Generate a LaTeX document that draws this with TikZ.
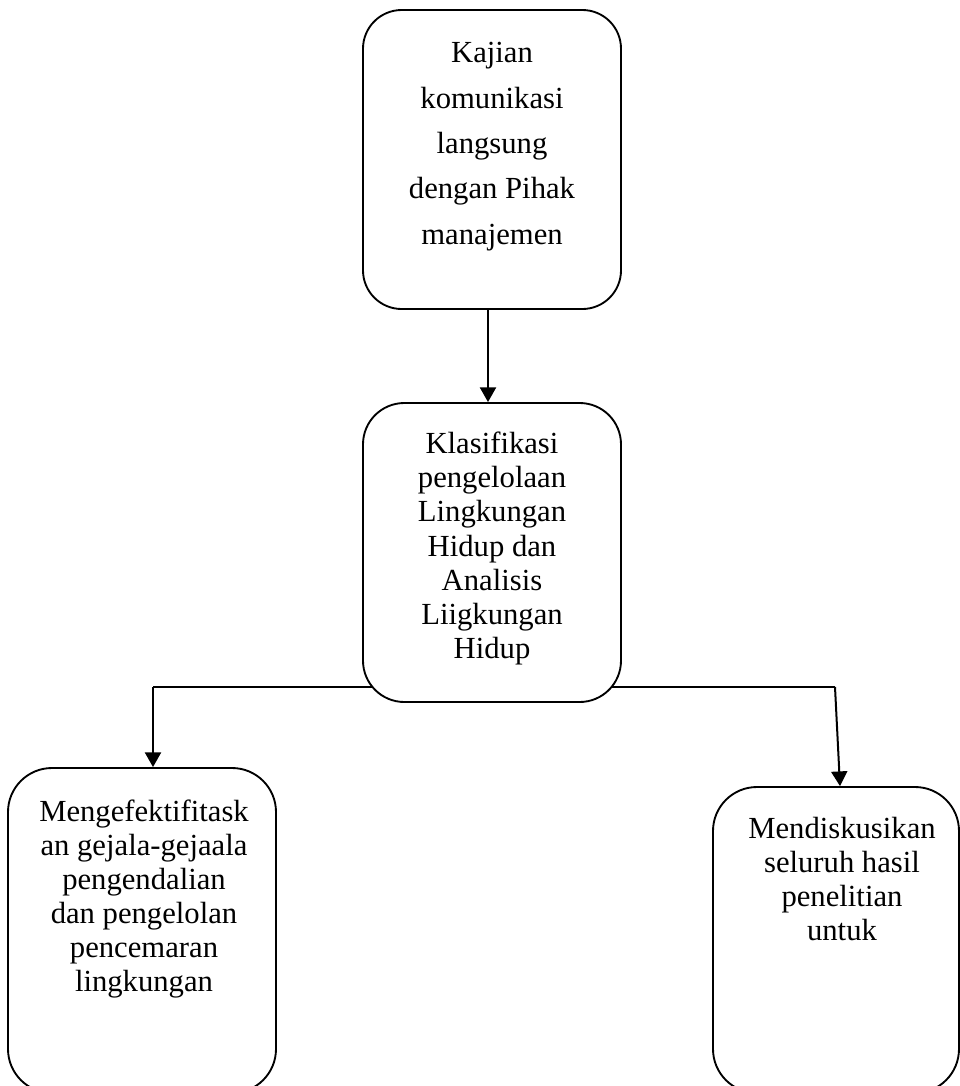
\documentclass[tikz,border=0pt]{standalone}
\usepackage{fontspec}
\setmainfont{Liberation Serif}
\usetikzlibrary{arrows.meta,backgrounds}
\begin{document}
\begin{tikzpicture}[x=0.75pt,y=-0.75pt,
  box/.style={draw,line width=1.4pt,fill=white,inner sep=0pt},
  txt/.style={align=center,font=\fontsize{23}{25.65}\selectfont,inner sep=0pt},
  arr/.style={line width=1.5pt,-{Triangle[width=12pt,length=11pt]}},
  link/.style={line width=1.4pt}]
\useasboundingbox (0,0) rectangle (960,1086);
% boxes
\node[box,rounded corners=29pt,minimum width=193.5pt,minimum height=224.25pt] (top) at (492,159.5) {};
\node[box,rounded corners=31pt,minimum width=193.5pt,minimum height=224.25pt] (mid) at (492,552.5) {};
\node[box,rounded corners=33pt,minimum width=201pt,minimum height=243.75pt] (left) at (142,930.5) {};
\node[box,rounded corners=33pt,minimum width=184.5pt,minimum height=229.5pt] (right) at (836,940) {};
% texts
\node[txt,font=\fontsize{23}{34}\selectfont] (toptext) at (492,146.5) {Kajian\\komunikasi\\langsung\\dengan Pihak\\manajemen};
\node[txt] (midtext) at (492,548.5) {Klasifikasi\\pengelolaan\\Lingkungan\\Hidup dan\\Analisis\\Liigkungan\\Hidup};
\node[txt] (lefttext) at (144,899) {Mengefektifitask\\an gejala-gejaala\\pengendalian\\dan pengelolan\\pencemaran\\lingkungan};
\node[txt] (righttext) at (842,879) {Mendiskusikan\\seluruh hasil\\penelitian\\untuk};
% connectors
\begin{scope}[on background layer]
\coordinate (jl) at (153,687);
\coordinate (jr) at (835,687);
\draw[link] (jl) -- (mid.center |- jl) -- (jr);
\draw[arr] (jl) -- (jl |- left.north);
\draw[arr] (jr) -- ([xshift=3pt]right.north);
\draw[arr] ([xshift=-3pt]top.south) -- ([xshift=-3pt]mid.north);
\end{scope}
\end{tikzpicture}
\end{document}
